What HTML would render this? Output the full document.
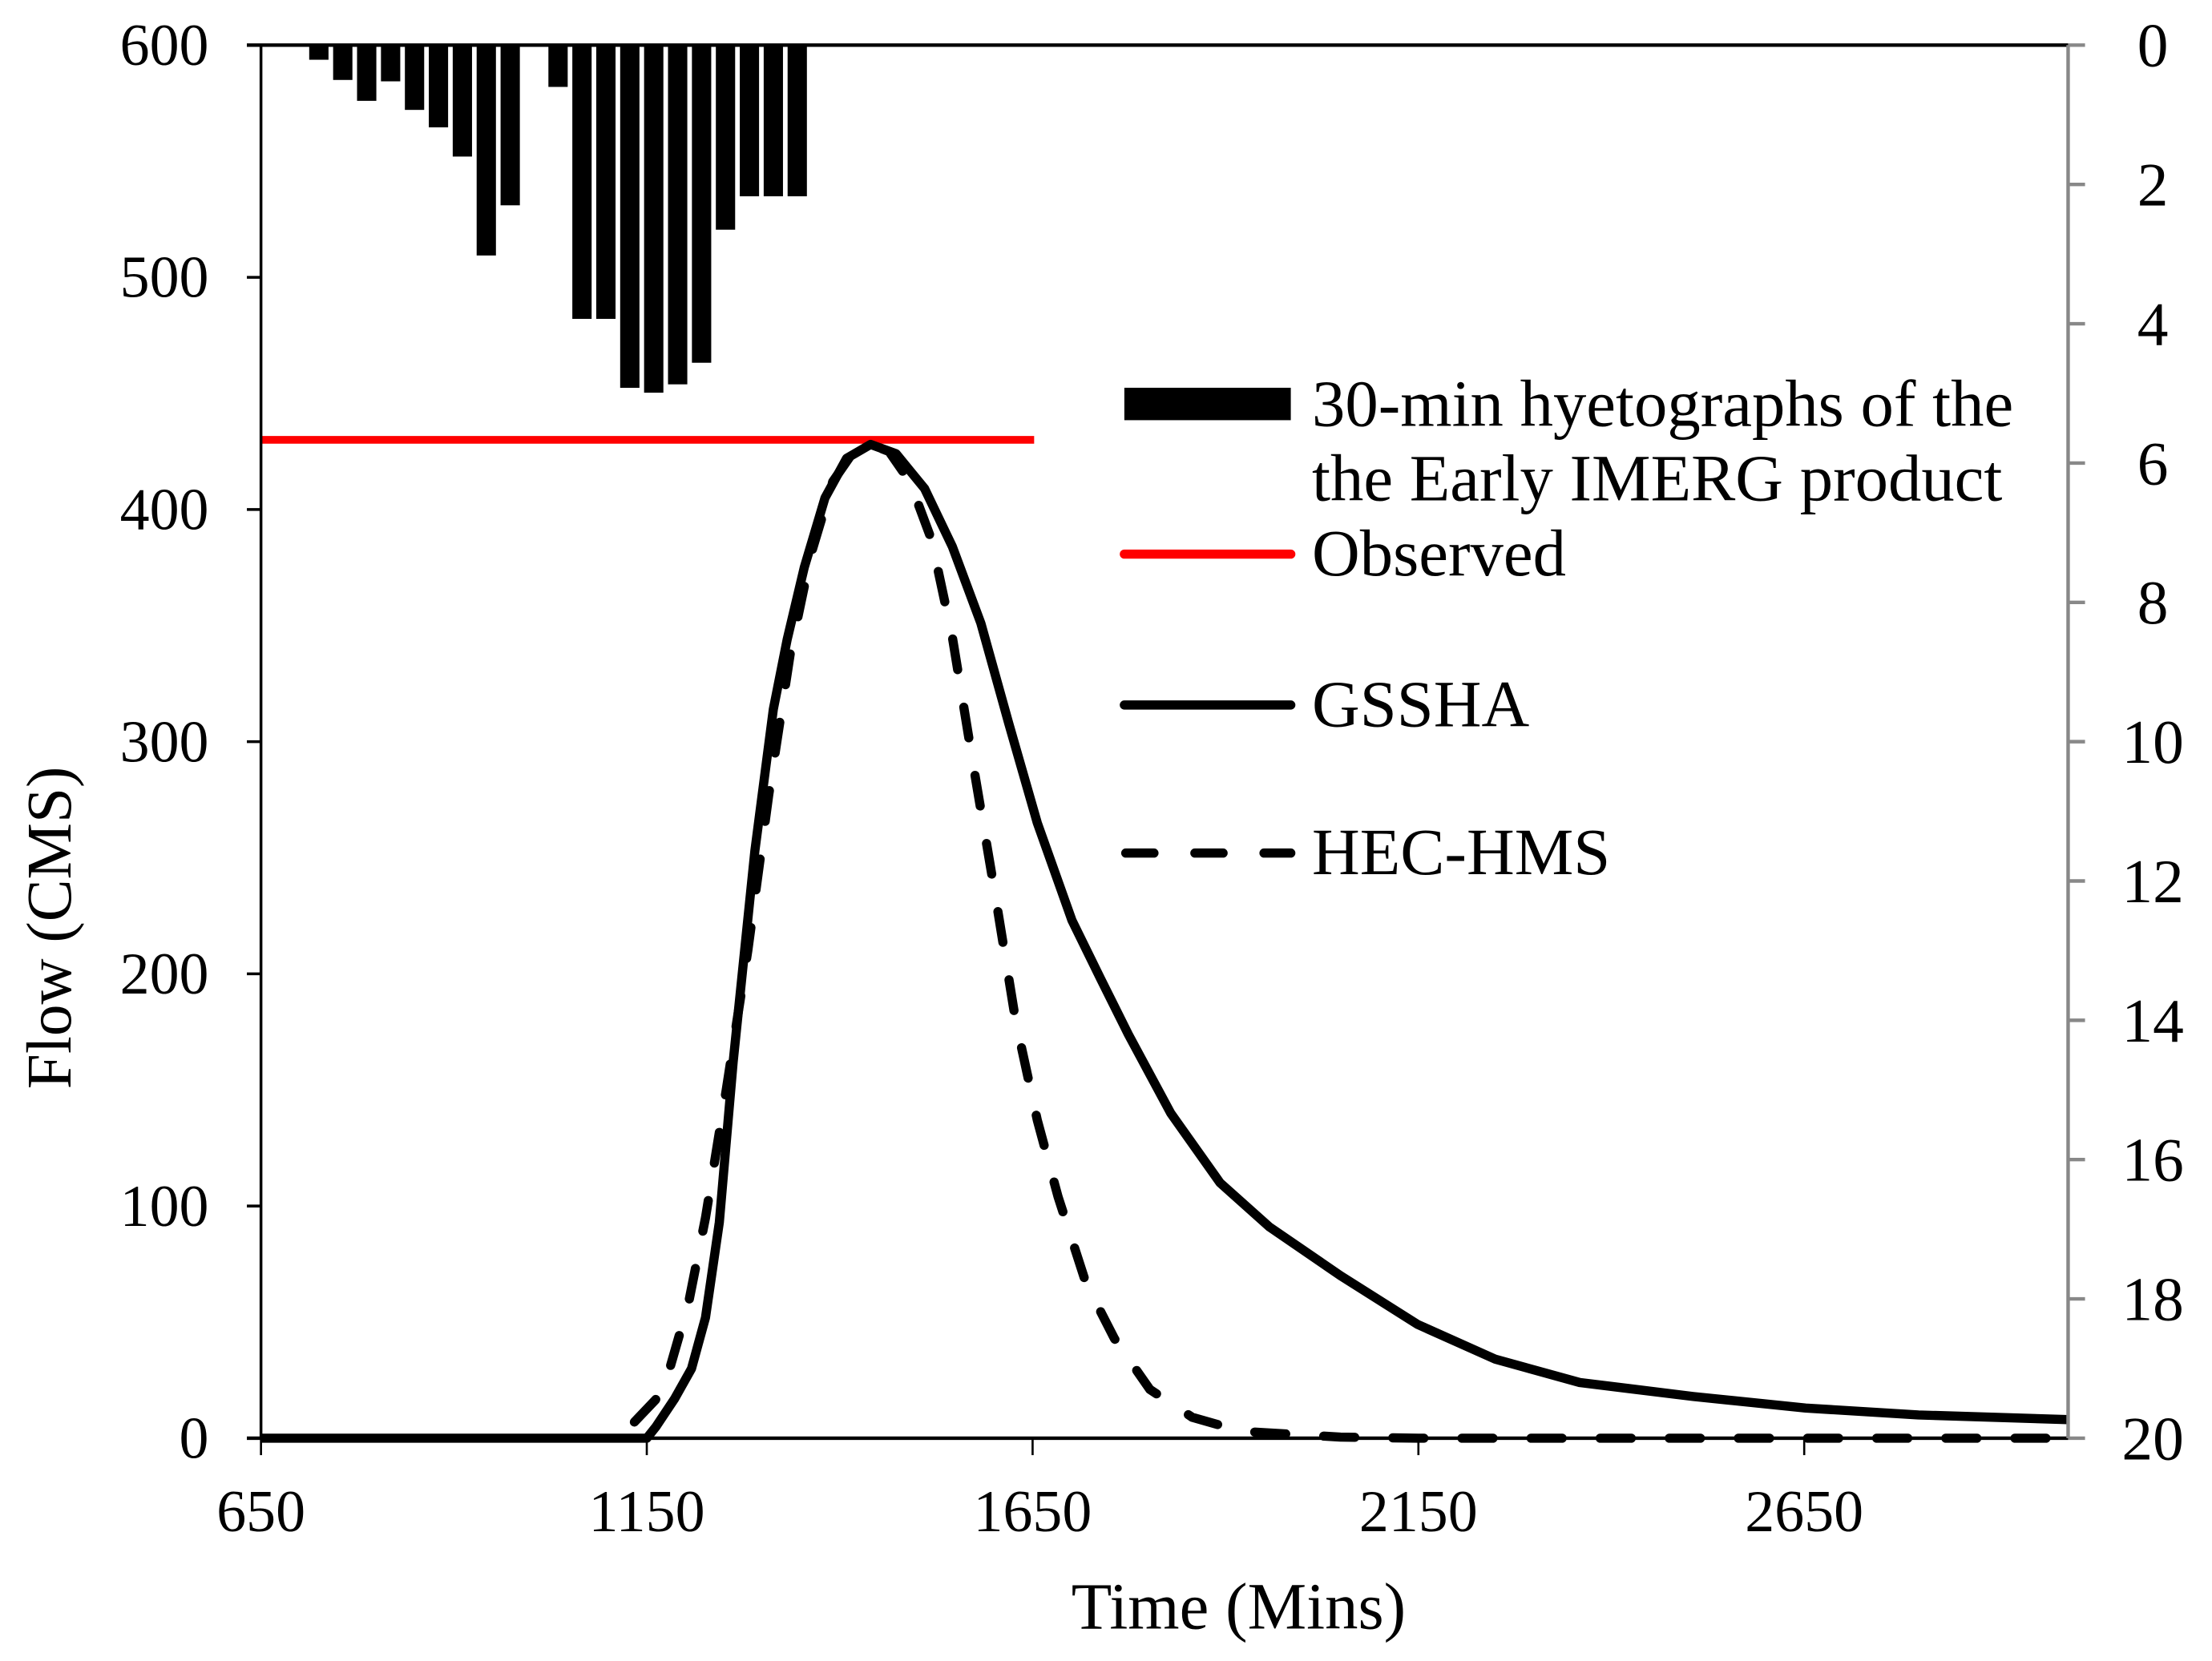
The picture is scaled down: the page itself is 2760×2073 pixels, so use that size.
<!DOCTYPE html>
<html><head><meta charset="utf-8"><style>
html,body{margin:0;padding:0;background:#fff;}
svg{display:block;}
text{font-family:"Liberation Serif",serif;fill:#000;}
</style></head>
<body>
<svg id="chart" width="2760" height="2073" viewBox="0 0 1568 1178" preserveAspectRatio="none" xmlns="http://www.w3.org/2000/svg">
<g id="plot"></g>
<g id="axes"></g>
<text x="0" y="0" font-size="45" text-anchor="middle" transform="translate(50,658) rotate(-90)">Flow (CMS)</text>
<text x="878" y="1155" font-size="47" text-anchor="middle">Time (Mins)</text>
<g>
<rect x="797" y="275" width="118" height="23" fill="#000"/>
<text x="930" y="302" font-size="47">30-min hyetographs of the</text>
<text x="930" y="355" font-size="47">the Early IMERG product</text>
<line x1="797" y1="393" x2="915" y2="393" stroke="#ff0000" stroke-width="6.5" stroke-linecap="round"/>
<text x="930" y="408" font-size="47">Observed</text>
<line x1="797" y1="500" x2="915" y2="500" stroke="#000" stroke-width="6.5" stroke-linecap="round"/>
<text x="930" y="515" font-size="47">GSSHA</text>
<line x1="798" y1="605" x2="915" y2="605" stroke="#000" stroke-width="6.5" stroke-dasharray="20,29" stroke-linecap="round"/>
<text x="930" y="620" font-size="47">HEC-HMS</text>
</g>
</svg>
<script>
const rainTimes = [725,756,787,818,849,880,911,942,973,1004,1035,1066,1097,1128,1159,1190,1221,1252,1283,1314,1345];
const rainValues = [0.21,0.50,0.80,0.52,0.93,1.18,1.60,3.02,2.30,0,0.60,3.93,3.93,4.92,4.99,4.87,4.56,2.65,2.17,2.17,2.17];
const observedFlow = 430;
const observedRange = [650,1652];
const gsshaTimes = [650,1150,1162,1186,1208,1226,1244,1262,1290,1314,1332,1354,1381,1409,1440,1473,1510,1546,1583,1619,1656,1701,1738,1774,1829,1893,1957,2049,2149,2250,2359,2506,2652,2798,2992];
const gsshaFlow = [0,0,5,17,30,52,93,162,253,314,344,375,405,422,428,424,409,384,351,308,265,223,198,174,140,110,91,70,49,34,24,18,13,10,8];
const hecTimes = [1134,1171,1204,1226,1253,1281,1308,1336,1363,1391,1418,1440,1464,1491,1519,1546,1573,1601,1628,1656,1683,1719,1756,1802,1857,1921,2049,2150,2992];
const hecFlow = [7,20,58,95,150,210,277,338,381,412,425,428,425,412,387,345,290,235,180,137,104,67,43,21,9,3,0.5,0,0];
const xTicks = [650,1150,1650,2150,2650];
const yTicks = [0,100,200,300,400,500,600];
const rainTicks = [0,2,4,6,8,10,12,14,16,18,20];

const X0=185,X1=1466,XMIN=650,XMAX=2992,Y0=1020,Y1=32;
const NS='http://www.w3.org/2000/svg';
function xs(t){return X0+(t-XMIN)/(XMAX-XMIN)*(X1-X0);}
function ys(v){return Y0-(v/600)*(Y0-Y1);}
function yr(r){return Y1+(r/20)*(Y0-Y1);}
function mk(tag,attrs,parent){const e=document.createElementNS(NS,tag);for(const k in attrs)e.setAttribute(k,attrs[k]);parent.appendChild(e);return e;}
const plot=document.getElementById('plot'), axes=document.getElementById('axes');

const barW=(xs(755)-xs(730));
rainValues.forEach((v,i)=>{
  if(v<=0)return;
  const r=mk('rect',{x:xs(rainTimes[i])-barW/2,y:Y1,width:barW,height:yr(v)-Y1,fill:'#000'},plot);
  
  
});
const obs=mk('line',{x1:xs(observedRange[0]),x2:xs(observedRange[1]),y1:ys(observedFlow),y2:ys(observedFlow),stroke:'#ff0000','stroke-width':5.5},plot);


function pathD(ts,vs){return ts.map((t,i)=>(i?'L':'M')+xs(t).toFixed(1)+','+ys(vs[i]).toFixed(1)).join(' ');}
const hec=mk('path',{d:pathD(hecTimes,hecFlow),fill:'none',stroke:'#000','stroke-width':6.5,'stroke-dasharray':'22,27','stroke-linecap':'round','stroke-linejoin':'round'},plot);


const gs=mk('path',{d:pathD(gsshaTimes,gsshaFlow),fill:'none',stroke:'#000','stroke-width':6.5,'stroke-linejoin':'round'},plot);



// axes
mk('line',{x1:X0,x2:X0,y1:Y1,y2:Y0,stroke:'#000','stroke-width':2},axes);
mk('line',{x1:X0-10,x2:X1,y1:Y0,y2:Y0,stroke:'#000','stroke-width':2.5},axes);
mk('line',{x1:X0-10,x2:X1,y1:Y1,y2:Y1,stroke:'#000','stroke-width':2.5},axes);
mk('line',{x1:X1,x2:X1,y1:Y1,y2:Y0,stroke:'#888','stroke-width':2.5},axes);
yTicks.forEach(v=>{
  mk('line',{x1:X0-10,x2:X0,y1:ys(v),y2:ys(v),stroke:'#000','stroke-width':2},axes);
  const t=mk('text',{x:X0-37,y:ys(v)+14,'font-size':42,'text-anchor':'end'},axes);
  t.textContent=v;
  
  
});
xTicks.forEach(v=>{
  mk('line',{x1:xs(v),x2:xs(v),y1:Y0,y2:Y0+12,stroke:'#000','stroke-width':1.5},axes);
  const t=mk('text',{x:xs(v),y:Y0+66,'font-size':42,'text-anchor':'middle'},axes);
  t.textContent=v;
  
  
});
rainTicks.forEach(v=>{
  mk('line',{x1:X1,x2:X1+12,y1:yr(v),y2:yr(v),stroke:'#888','stroke-width':2.5},axes);
  const t=mk('text',{x:X1+60,y:yr(v)+15,'font-size':44,'text-anchor':'middle'},axes);
  t.textContent=v;
  
  
});
</script>
</body></html>
